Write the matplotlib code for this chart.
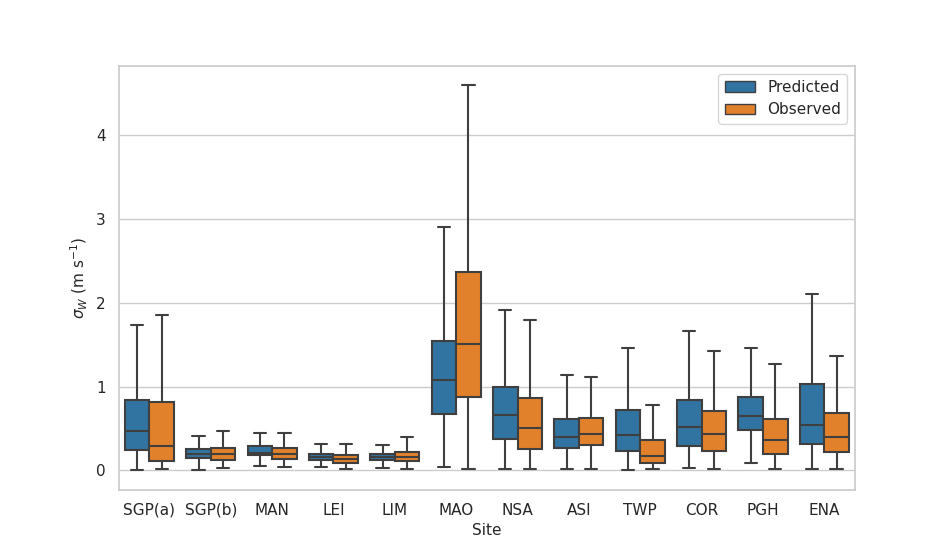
import numpy as np
import matplotlib
matplotlib.use("Agg")
import matplotlib.pyplot as plt
import seaborn as sns
from matplotlib.patches import Patch

sns.set_theme(style="whitegrid")
plt.rcParams["axes.labelsize"] = 11
plt.rcParams["xtick.labelsize"] = 11
plt.rcParams["ytick.labelsize"] = 11
plt.rcParams["legend.fontsize"] = 11

sites = ["SGP(a)", "SGP(b)", "MAN", "LEI", "LIM", "MAO", "NSA", "ASI", "TWP", "COR", "PGH", "ENA"]

# box stats: whislo, q1, med, q3, whishi
pred_lo  = [0.00, 0.00, 0.05, 0.04, 0.03, 0.04, 0.01, 0.01, 0.00, 0.03, 0.09, 0.016]
pred_q1  = [0.24, 0.15, 0.185, 0.12, 0.12, 0.67, 0.37, 0.27, 0.23, 0.29, 0.48, 0.315]
pred_med = [0.47, 0.195, 0.21, 0.16, 0.16, 1.08, 0.66, 0.40, 0.42, 0.52, 0.65, 0.54]
pred_q3  = [0.84, 0.25, 0.29, 0.19, 0.19, 1.55, 1.00, 0.61, 0.72, 0.84, 0.87, 1.03]
pred_hi  = [1.74, 0.41, 0.44, 0.31, 0.30, 2.91, 1.92, 1.14, 1.46, 1.66, 1.46, 2.11]

obs_lo  = [0.016, 0.025, 0.04, 0.016, 0.016, 0.016, 0.016, 0.016, 0.016, 0.016, 0.016, 0.016]
obs_q1  = [0.11, 0.12, 0.13, 0.09, 0.11, 0.88, 0.25, 0.30, 0.09, 0.23, 0.19, 0.215]
obs_med = [0.29, 0.19, 0.19, 0.14, 0.16, 1.51, 0.51, 0.43, 0.175, 0.43, 0.36, 0.40]
obs_q3  = [0.81, 0.27, 0.27, 0.18, 0.215, 2.37, 0.86, 0.62, 0.36, 0.71, 0.61, 0.68]
obs_hi  = [1.86, 0.47, 0.44, 0.31, 0.40, 4.60, 1.80, 1.12, 0.78, 1.43, 1.27, 1.37]

labels = ["Predicted", "Observed"]
colors = ["#3274a1", "#e1812c"]
edge = "#3f3f3f"


def make_stats(lo, q1, med, q3, hi):
    return [dict(whislo=a, q1=b, med=c, q3=d, whishi=e, fliers=[])
            for a, b, c, d, e in zip(lo, q1, med, q3, hi)]


groups = [make_stats(pred_lo, pred_q1, pred_med, pred_q3, pred_hi),
          make_stats(obs_lo, obs_q1, obs_med, obs_q3, obs_hi)]

fig, ax = plt.subplots(figsize=(9.5, 5.5), dpi=100)
x = np.arange(len(sites))
lw = 1.5
for k, stats in enumerate(groups):
    pos = x - 0.2 + 0.4 * k
    ax.bxp(stats, positions=pos, widths=0.4, patch_artist=True, showfliers=False,
           boxprops=dict(facecolor=colors[k], edgecolor=edge, linewidth=lw),
           whiskerprops=dict(color=edge, linewidth=lw),
           capprops=dict(color=edge, linewidth=lw),
           medianprops=dict(color=edge, linewidth=lw),
           manage_ticks=False)

ax.set_xlim(-0.5, len(sites) - 0.5)
ax.set_xticks(x)
ax.set_xticklabels(sites)
ax.xaxis.grid(False)
ax.set_xlabel("Site")
ax.set_ylabel(r"$\sigma_W$ (m s$^{-1}$)")
ax.margins(y=0.05)

handles = [Patch(facecolor=c, edgecolor=edge, label=l) for c, l in zip(colors, labels)]
ax.legend(handles=handles, loc="upper right")

fig.savefig("out.png", dpi=100)
